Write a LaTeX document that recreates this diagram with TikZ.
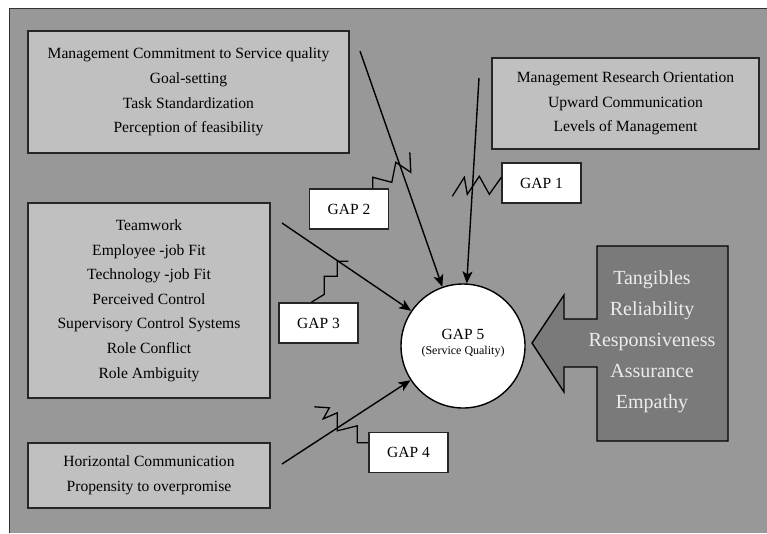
\documentclass[tikz,border=0pt]{standalone}
\usepackage{fontspec}
\setmainfont{Liberation Serif}
\usepackage{tikz}
\usetikzlibrary{calc, shapes, arrows, arrows.meta}
\definecolor{bggray}{RGB}{152,152,152}
\definecolor{boxgray}{RGB}{192,192,192}
\definecolor{dimgray}{RGB}{122,122,122}
\definecolor{textlight}{RGB}{236,236,236}

\begin{document}
\begin{tikzpicture}[x=1pt,y=-1pt]
\tikzstyle{line} = [draw, line width=1.4pt, -{Stealth[length=12pt,width=10pt,inset=3pt]}]
\tikzstyle{zig} = [draw, line width=1.3pt]
\tikzstyle{vertex}=[rectangle,draw=black!85,line width=1.4pt,fill=boxgray,align=center,inner sep=0pt,font=\fontsize{15.6}{24.6}\selectfont]
\tikzstyle{gap}=[rectangle,draw=black!85,line width=1.4pt,fill=white,minimum width=79pt,minimum height=40pt,inner sep=0pt,font=\fontsize{15.5}{18}\selectfont]
\useasboundingbox (0,0) rectangle (767,533);
\fill[white] (0,0) rectangle (767,533);
\fill[bggray] (9,8) rectangle (767,533);
\draw[line width=1pt, black!80] (9,533) -- (9,8) -- (767,8);
\node[vertex, minimum width=321pt, minimum height=122pt] (F_1) at (188.5,92) {Management Commitment to Service quality\\Goal-setting\\Task Standardization\\Perception of feasibility};
\node[vertex, minimum width=267pt, minimum height=91pt] (F_2) at (625.5,103.5) {Management Research Orientation\\Upward Communication\\Levels of Management};
\node[vertex, minimum width=242pt, minimum height=195pt] (F_3) at (149,300.5) {Teamwork\\Employee -job Fit\\Technology -job Fit\\Perceived Control\\Supervisory Control Systems\\Role Conflict\\Role Ambiguity};
\node[vertex, minimum width=242pt, minimum height=65pt] (F_4) at (149,475.5) {Horizontal Communication\\Propensity to overpromise};
\node[gap] (GAP_1) at (541.5,183) {GAP 1};
\node[gap] (GAP_2) at (349,209) {GAP 2};
\node[gap] (GAP_3) at (318.5,323) {GAP 3};
\node[gap] (GAP_4) at (408.5,452.5) {GAP 4};
\node[circle,draw=black,line width=1.4pt,fill=white,minimum size=124pt,inner sep=0pt,align=center,font=\fontsize{15.5}{18}\selectfont] (Q) at (463,346) {GAP 5\\[-3pt]{\fontsize{12}{13}\selectfont (Service Quality)}\\[-10pt]};
\draw[fill=dimgray, line width=1.4pt] (597,246) -- (728,246) -- (728,441) -- (597,441) -- (597,367) -- (564,367) -- (564,392) -- (532,343) -- (564,295) -- (564,319) -- (597,319) -- cycle;
\node[text=textlight,align=center,font=\fontsize{20}{31}\selectfont] (D) at (652,342) {Tangibles\\Reliability\\Responsiveness\\Assurance\\Empathy};
\coordinate (a_1) at (479,78);
\coordinate (a_2) at (360,51);
\coordinate (a_3) at (282,223);
\coordinate (a_4) at (282,464);
\path [line] (a_1) -- (Q);
\path [line] (a_2) -- (Q);
\path [line] (a_3) -- (Q);
\path [line] (a_4) -- (Q);
\path [zig] ($(GAP_1.north west)+(0,15)$) -- ++(-12,17) -- ++(-10,-18) -- ++(-12,18) -- ++(-3,-17) -- ++(-12,19);
\path [zig] ($(GAP_2.north west)+(64,0)$) -- ++(0,-11) -- ++(19,5) -- ++(4,-20) -- ++(15,10) -- ++(-1,-20);
\path [zig] ($(GAP_3.north west)+(33,0)$) -- ++(13,-8) -- ++(0,-18) -- ++(13,0) -- ++(0,-15) -- ++(11,0);
\path [zig] ($(GAP_4.north west)+(0,11)$) -- ++(-11,0) -- ++(0,-17) -- ++(-20,5) -- ++(0,-18) -- ++(-14,6) -- ++(6,-11) -- ++(-15,-1);
\end{tikzpicture}
\end{document}
